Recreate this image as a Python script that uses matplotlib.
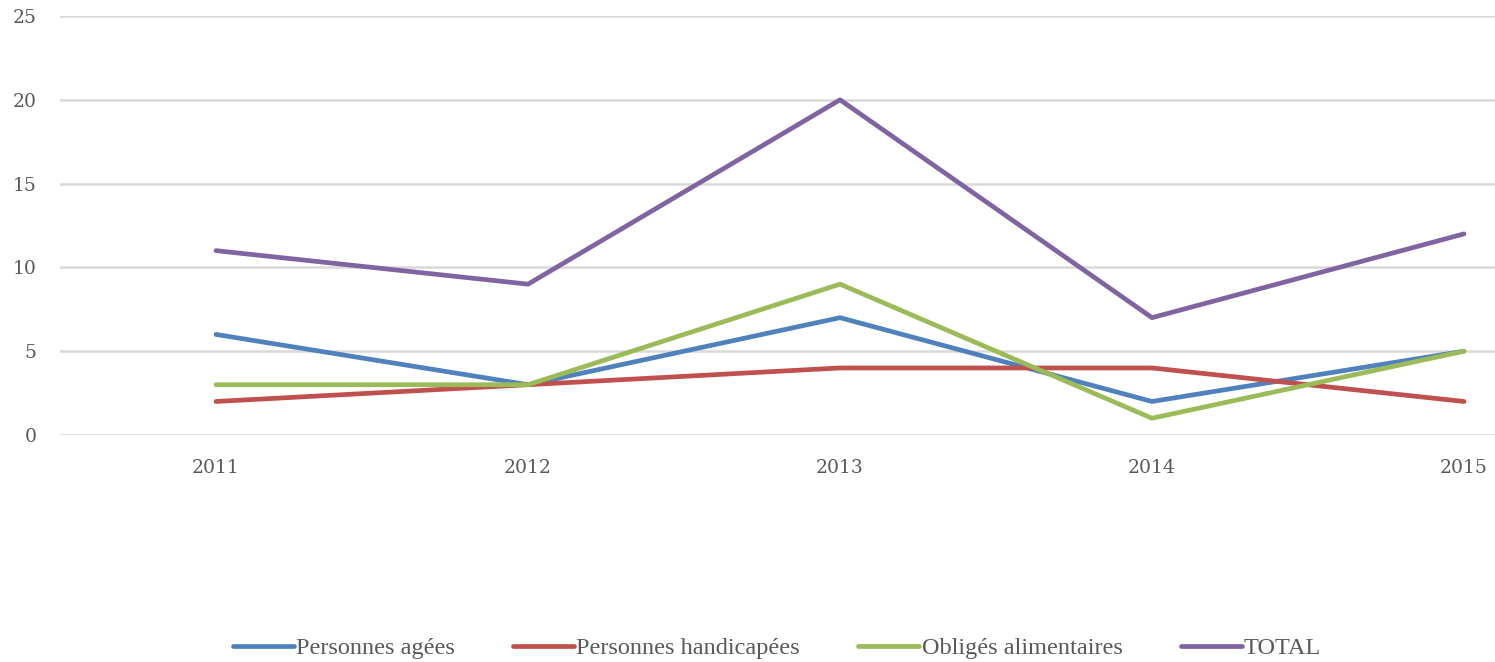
import matplotlib
matplotlib.use("Agg")
import matplotlib.pyplot as plt
import numpy as np

years = ["2011", "2012", "2013", "2014", "2015"]
agees = [6, 3, 7, 2, 5]
handicapees = [2, 3, 4, 4, 2]
obliges = [3, 3, 9, 1, 5]
total = [11, 9, 20, 7, 12]

series = [
    ("Personnes agées", agees, "#4F81BD"),
    ("Personnes handicapées", handicapees, "#C0504D"),
    ("Obligés alimentaires", obliges, "#9BBB59"),
    ("TOTAL", total, "#8064A2"),
]

plt.rcParams["font.family"] = "DejaVu Serif"

fig = plt.figure(figsize=(14.95, 6.62), dpi=100)
ax = fig.add_axes([60 / 1495, 1 - 435 / 662, 1 - 60 / 1495, (435 - 16) / 662])

x = np.arange(len(years))
for name, vals, col in series:
    ax.plot(x, vals, color=col, lw=3.4, label=name, solid_capstyle="round",
            solid_joinstyle="round", zorder=3)

ax.set_ylim(0, 25)
ax.set_yticks(range(0, 26, 5))
ax.set_xlim(-0.5, -0.5 + (1495 - 60) / 312)
ax.set_xticks(x)
ax.set_xticklabels(years)
ax.grid(axis="y", color="#D9D9D9", lw=1.8, zorder=0)
for s in ax.spines.values():
    s.set_visible(False)
ax.tick_params(length=0, labelcolor="#595959", labelsize=13.5)
ax.tick_params(axis="y", pad=17)
ax.tick_params(axis="x", pad=17)

leg = fig.legend(loc="center", bbox_to_anchor=(777 / 1495, 1 - 648 / 662), ncol=4,
                 frameon=False, prop={"family": "Liberation Serif", "size": 17.5},
                 handlelength=2.5, handletextpad=0.1, columnspacing=2.4)
for t in leg.get_texts():
    t.set_color("#595959")

fig.savefig("out.png", dpi=100)
